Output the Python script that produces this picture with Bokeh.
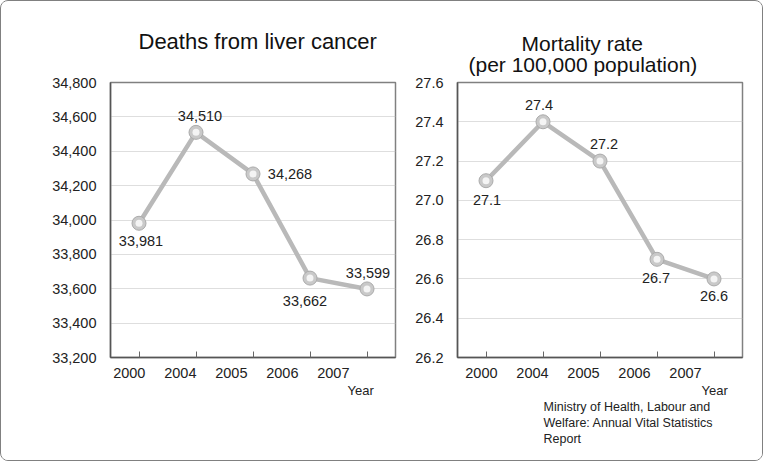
from bokeh.plotting import figure
from bokeh.layouts import row
from bokeh.models import Range1d, FixedTicker, NumeralTickFormatter, Title, ColumnDataSource
from bokeh.embed import file_html
from bokeh.resources import INLINE
from bokeh.core.properties import value

# ---------------- data ----------------
years = ["2000", "2004", "2005", "2006", "2007"]
deaths = [33981, 34510, 34268, 33662, 33599]
deaths_text = ["33,981", "34,510", "34,268", "33,662", "33,599"]
deaths_ticks = [33200, 33400, 33600, 33800, 34000, 34200, 34400, 34600, 34800]
rate = [27.1, 27.4, 27.2, 26.7, 26.6]
rate_text = ["27.1", "27.4", "27.2", "26.7", "26.6"]
rate_ticks = [26.2, 26.4, 26.6, 26.8, 27.0, 27.2, 27.4, 27.6]

title_left = "Deaths from liver cancer"
title_right = ["Mortality rate", "(per 100,000 population)"]
x_label = "Year"
source_note = ["Ministry of Health, Labour and", "Welfare: Annual Vital Statistics", "Report"]

# ---------------- styles ----------------
FONT = "Liberation Sans"
LINE_COLOR = "#b9b9b9"
TEXT_COLOR = "#222222"
# pixel offsets of value labels relative to the points (dx, dy down-positive)
deaths_off = [(2, 18), (4, -16), (37, 0), (-5, 23), (1, -16)]
rate_off = [(1, 19), (-4, -17), (4, -17), (-1, 19), (0, 17)]


def make_panel(vals, texts, ticks, offs, width, mbl, mbr, lab_start, fmt, year_off):
    n = len(years)
    xs = [i + 0.5 for i in range(n)]
    p = figure(width=width, height=459, x_range=Range1d(0, n),
               y_range=Range1d(ticks[0], ticks[-1]),
               output_backend="svg", toolbar_location=None,
               min_border_left=mbl, min_border_right=mbr,
               min_border_top=81, min_border_bottom=103,
               background_fill_color="white", border_fill_color="white")
    p.outline_line_color = "#808080"
    p.outline_line_width = 1.5

    # x axis: labels at (slightly shifted) major positions, tick marks as
    # minor ticks at the data points, pointing inwards
    lab_pos = [lab_start + 0.895 * i for i in range(n)]
    xa = p.xaxis[0]
    xa.ticker = FixedTicker(ticks=lab_pos, minor_ticks=xs)
    xa.major_label_overrides = {lp: y for lp, y in zip(lab_pos, years)}
    xa.major_tick_line_color = None
    xa.minor_tick_in = 6
    xa.minor_tick_out = 0
    xa.minor_tick_line_color = "#666666"
    xa.minor_tick_line_width = 1
    xa.axis_line_color = "#555555"
    xa.axis_line_width = 1.5
    xa.major_label_standoff = 4
    xa.major_label_text_font = FONT
    xa.major_label_text_font_size = "14.5px"
    xa.major_label_text_color = TEXT_COLOR

    # y axis
    ya = p.yaxis[0]
    ya.ticker = FixedTicker(ticks=ticks)
    ya.formatter = NumeralTickFormatter(format=fmt)
    ya.major_tick_line_color = None
    ya.minor_tick_line_color = None
    ya.axis_line_color = "#555555"
    ya.axis_line_width = 1.5
    ya.major_label_standoff = 8
    ya.major_label_text_font = FONT
    ya.major_label_text_font_size = "14.5px"
    ya.major_label_text_color = TEXT_COLOR

    p.xgrid.grid_line_color = None
    p.ygrid.ticker = FixedTicker(ticks=ticks[1:-1])
    p.ygrid.grid_line_color = "#bdbdbd"
    p.ygrid.grid_line_dash = "1 1"
    p.ygrid.grid_line_width = 1

    src = ColumnDataSource(dict(x=xs, y=vals, t=texts,
                                dx=[o[0] for o in offs], dy=[o[1] for o in offs]))
    p.line("x", "y", source=src, line_color=LINE_COLOR, line_width=4.5)
    p.scatter("x", "y", source=src, size=14, fill_color="#c9c9c9",
              line_color="#ababab", line_width=1)
    p.scatter("x", "y", source=src, size=7, fill_color="#f4f4f4",
              line_color=None)
    p.text("x", "y", text="t", source=src, x_offset="dx", y_offset="dy",
           text_font=value(FONT), text_font_size="14.5px",
           text_color=TEXT_COLOR, text_align="center", text_baseline="middle")

    # "Year" label under the axis, right side
    p.add_layout(Title(text=x_label, align="left", offset=year_off, standoff=0,
                       text_font=FONT, text_font_size="13px",
                       text_font_style="normal", text_color=TEXT_COLOR), "below")
    return p


left = make_panel(deaths, deaths_text, deaths_ticks, deaths_off, 399, 109, 5, 0.33, "0,0", 237)
right = make_panel(rate, rate_text, rate_ticks, rate_off, 362, 57, 20, 0.42, "0.0", 244)

# titles
left.title = Title(text=title_left, align="left", offset=28, standoff=53,
                   vertical_align="top", text_font=FONT, text_font_size="22px",
                   text_font_style="normal", text_color="#111111")

right.add_layout(Title(text=title_right[1], align="left", offset=11, standoff=13,
                       text_font=FONT, text_font_size="21px",
                       text_font_style="normal", text_color="#111111"), "above")
right.title = Title(text=title_right[0], align="left", offset=64, standoff=-24,
                    vertical_align="top", text_font=FONT, text_font_size="21px",
                    text_font_style="normal", text_color="#111111")

# source note (three lines)
for line in source_note:
    right.add_layout(Title(text=line, align="left", offset=86, standoff=0,
                           text_font=FONT, text_font_size="12.5px",
                           text_font_style="normal", text_color=TEXT_COLOR), "below")

layout = row(left, right, styles={"border": "1px solid #808080",
                                  "border-radius": "8px", "overflow": "hidden"})

open("out.html", "w").write(file_html(layout, INLINE))
